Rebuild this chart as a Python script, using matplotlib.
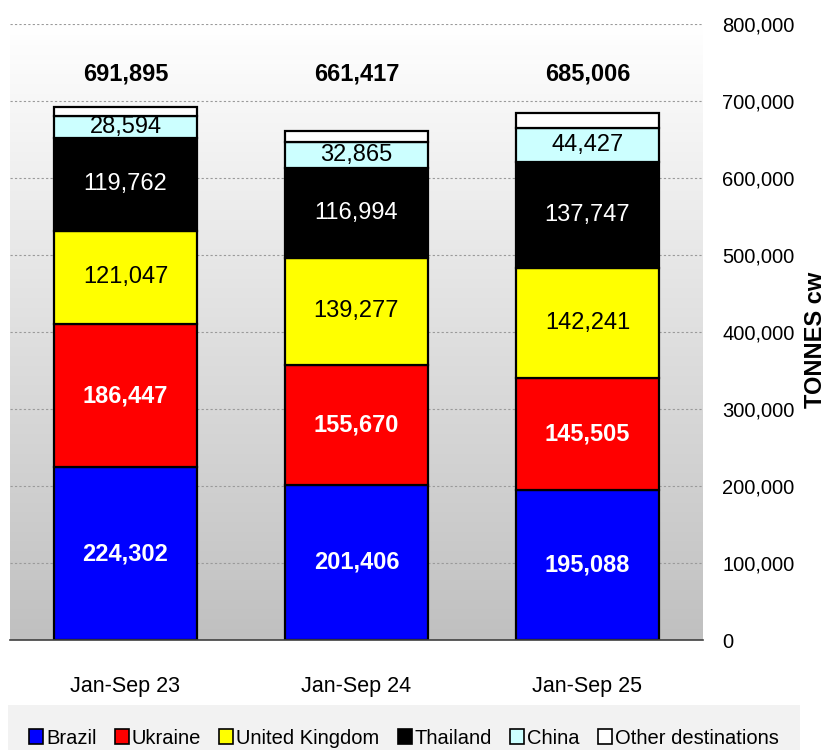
import numpy as np
import matplotlib.pyplot as plt
from matplotlib.patches import Patch, Rectangle
from matplotlib.colors import LinearSegmentedColormap

plt.rcParams['font.family'] = ['Liberation Sans', 'DejaVu Sans']

periods = ['Jan-Sep 23', 'Jan-Sep 24', 'Jan-Sep 25']
totals = [691895, 661417, 685006]
brazil = [224302, 201406, 195088]
ukraine = [186447, 155670, 145505]
uk = [121047, 139277, 142241]
thailand = [119762, 116994, 137747]
china = [28594, 32865, 44427]
other = [t - b - u - k - th - c for t, b, u, k, th, c in zip(totals, brazil, ukraine, uk, thailand, china)]

series = [
    ('Brazil', brazil, '#0000FF', 'white', 'bold'),
    ('Ukraine', ukraine, '#FF0000', 'white', 'bold'),
    ('United Kingdom', uk, '#FFFF00', 'black', 'normal'),
    ('Thailand', thailand, '#000000', 'white', 'normal'),
    ('China', china, '#CCFFFF', 'black', 'normal'),
    ('Other destinations', other, '#FFFFFF', None, None),
]

W, H = 829, 750
fig = plt.figure(figsize=(W / 100, H / 100), dpi=100)
ax = fig.add_axes([10 / W, 1 - 640 / H, 693 / W, 616 / H])

x = np.arange(len(periods))
ax.set_xlim(-0.5, 2.5)
ax.set_ylim(0, 800000)

# gradient background: white at top to grey at bottom
grad = np.linspace(1.0, 0.0, 256).reshape(-1, 1)
cmap = LinearSegmentedColormap.from_list('bg', ['#C0C0C0', '#FFFFFF'])
ax.imshow(grad, extent=(-0.5, 2.5, 0, 800000), aspect='auto', cmap=cmap, zorder=0, origin='upper')

for v in range(100000, 800001, 100000):
    ax.axhline(v, color='#9A9A9A', linestyle=(0, (2, 2)), linewidth=0.8, zorder=1)

bottom = np.zeros(len(periods))
for name, vals, col, tcol, tw in series:
    vals = np.array(vals, dtype=float)
    ax.bar(x, vals, 0.623, bottom=bottom, color=col, edgecolor='black', linewidth=1.6, zorder=2, label=name)
    if tcol is not None:
        for xi, b, v in zip(x, bottom, vals):
            ax.text(xi, b + v / 2, f'{int(v):,}', ha='center', va='center', color=tcol,
                    fontsize=17, fontweight=tw, zorder=3)
    bottom += vals

for xi, t in zip(x, totals):
    ax.text(xi, 735000, f'{t:,}', ha='center', va='center', fontsize=17, fontweight='bold')

ax.yaxis.tick_right()
ax.set_yticks(range(0, 800001, 100000))
ax.set_yticklabels([f'{v:,}' for v in range(0, 800001, 100000)])
ax.tick_params(axis='y', length=0, pad=14, labelsize=14.5)
ax.set_xticks(x)
ax.set_xticklabels(periods)
ax.tick_params(axis='x', length=0, pad=26, labelsize=15.5)
for s in ['top', 'left', 'right']:
    ax.spines[s].set_visible(False)
ax.spines['bottom'].set_color('#404040')
ax.spines['bottom'].set_linewidth(1.2)
ax.spines['bottom'].set_zorder(4)

fig.text(816 / W, 1 - 340 / H, 'TONNES cw', rotation=90, ha='center', va='center',
         fontsize=17, fontweight='bold')

# legend strip
fig.patches.append(Rectangle((8 / W, 0), 792 / W, 45 / H, transform=fig.transFigure,
                             facecolor='#F2F2F2', edgecolor='none', zorder=0))
handles = [Patch(facecolor=c, edgecolor='black', linewidth=1.2) for _, _, c, _, _ in series]
fig.legend(handles, [s[0] for s in series], loc='center', bbox_to_anchor=(404 / W, 1 - 738 / H),
           ncol=6, frameon=False, fontsize=14.5, handlelength=0.7, handleheight=0.7,
           handletextpad=0.15, columnspacing=0.9, borderaxespad=0)

fig.savefig('out.png', dpi=100)
